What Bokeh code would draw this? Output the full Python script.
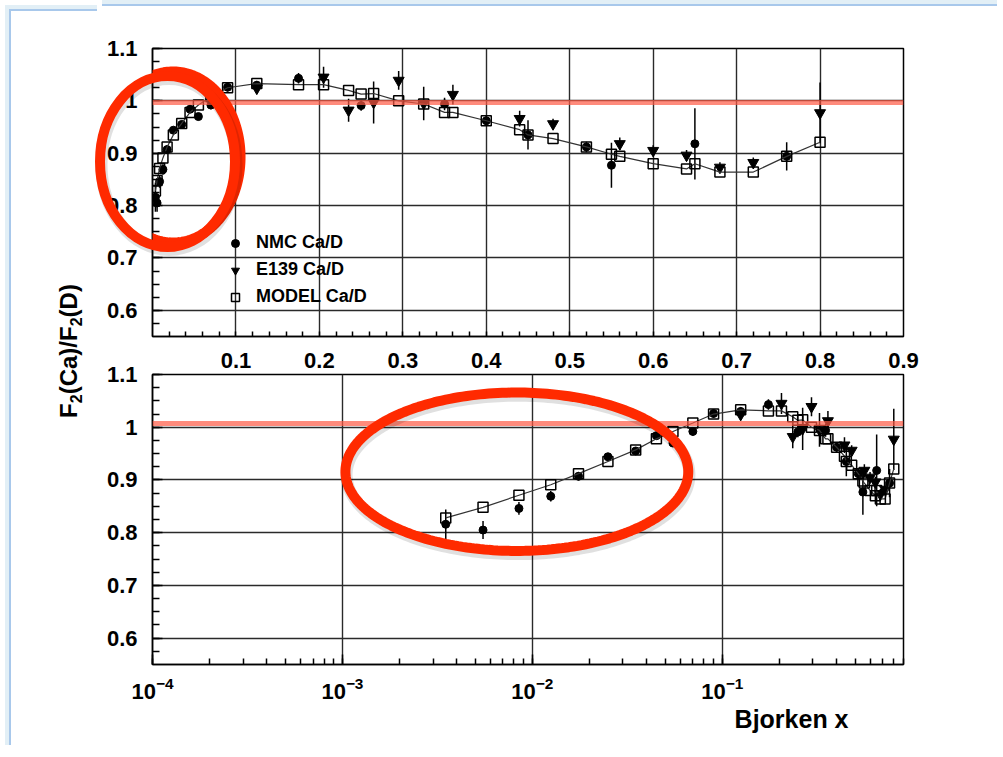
import numpy as np
from bokeh.plotting import figure
from bokeh.models import (FixedTicker, LogTicker, Span, PolyAnnotation, Legend,
                          LegendItem, Div, Title, LinearAxis, Range1d, LinearScale)
from bokeh.layouts import row, column
from bokeh.embed import file_html
from bokeh.resources import INLINE

FONT = "Liberation Sans"

# ---------------- data ----------------
x_nmc = [0.0035, 0.0055, 0.0085, 0.0125, 0.0175, 0.025, 0.035, 0.045, 0.055, 0.07,
         0.09, 0.125, 0.175, 0.25, 0.35, 0.40, 0.45, 0.52, 0.55, 0.65, 0.76]
y_nmc = [0.816, 0.805, 0.846, 0.869, 0.907, 0.944, 0.955, 0.984, 0.970, 0.992,
         1.026, 1.030, 1.043, 0.991, 0.994, 0.962, 0.935, 0.912, 0.877, 0.918, 0.894]
e_nmc = [0.028, 0.017, 0.012, 0.010, 0.008, 0.007, 0.007, 0.007, 0.007, 0.008,
         0.008, 0.008, 0.010, 0.010, 0.012, 0.010, 0.028, 0.010, 0.043, 0.068, 0.027]

x_e139 = [0.125, 0.205, 0.235, 0.265, 0.295, 0.325, 0.36, 0.44, 0.48, 0.56,
          0.60, 0.64, 0.68, 0.72, 0.80]
y_e139 = [1.024, 1.045, 0.982, 0.997, 1.039, 0.995, 1.012, 0.966, 0.956, 0.918,
          0.905, 0.896, 0.873, 0.882, 0.977]
e_e139 = [0.008, 0.020, 0.022, 0.040, 0.018, 0.032, 0.019, 0.015, 0.010, 0.012,
          0.010, 0.010, 0.010, 0.010, 0.058]

x_model = [0.0035, 0.0055, 0.0085, 0.0125, 0.0175, 0.025, 0.035, 0.045, 0.055, 0.07,
           0.09, 0.125, 0.175, 0.205, 0.235, 0.25, 0.265, 0.295, 0.325, 0.35,
           0.36, 0.40, 0.44, 0.45, 0.48, 0.52, 0.55, 0.56, 0.60, 0.64,
           0.65, 0.68, 0.72, 0.76, 0.80]
y_model = [0.828, 0.848, 0.871, 0.891, 0.912, 0.935, 0.957, 0.978, 0.992, 1.008,
           1.025, 1.033, 1.031, 1.031, 1.020, 1.013, 1.014, 1.000, 0.994, 0.978,
           0.978, 0.962, 0.945, 0.935, 0.928, 0.912, 0.898, 0.894, 0.880, 0.870,
           0.880, 0.864, 0.864, 0.894, 0.921]

legend_labels = ["NMC Ca/D", "E139 Ca/D", "MODEL Ca/D"]
x_ticks_lin = [0.1, 0.2, 0.3, 0.4, 0.5, 0.6, 0.7, 0.8, 0.9]
y_ticks = [0.6, 0.7, 0.8, 0.9, 1.0, 1.1]
y_tick_labels = {0.6: "0.6", 0.7: "0.7", 0.8: "0.8", 0.9: "0.9", 1.0: "1", 1.1: "1.1"}
x_title = "Bjorken x"
ref_line_top = 0.997
ref_line_bottom = 1.0072

# --------------------------------------------------------------------------
GRID = "#2a2a2a"
RED = "#ff2a00"
PAGE_TOP = ("linear-gradient(to bottom, #e2eff6 0px, #e2eff6 4px, #a8c8eb 4px, "
            "#a8c8eb 6px, #ffffff 6px)")
PAGE_LEFT = ("linear-gradient(to right, #e2eff6 0px, #e2eff6 4px, #a8c8eb 4px, "
             "#a8c8eb 6px, #ffffff 6px)")


def style_axis(ax, tick_in, minor_in, standoff):
    ax.major_label_text_font = FONT
    ax.major_label_text_font_style = "bold"
    ax.major_label_text_font_size = "22px"
    ax.major_label_text_color = "black"
    ax.major_label_standoff = standoff
    ax.axis_line_color = "black"
    ax.axis_line_width = 1.5
    ax.major_tick_in = tick_in
    ax.major_tick_out = 0
    ax.minor_tick_in = minor_in
    ax.minor_tick_out = 0
    ax.major_tick_line_color = "black"
    ax.minor_tick_line_color = "black"
    ax.major_tick_line_width = 1.5
    ax.minor_tick_line_width = 1.5


def base_style(p):
    p.outline_line_color = "black"
    p.outline_line_width = 1.5
    p.outline_line_alpha = 1.0
    p.background_fill_color = "white"
    p.border_fill_color = "white"
    for g in (p.xgrid, p.ygrid):
        g.grid_line_color = GRID
        g.grid_line_width = 1.4
        g.grid_line_alpha = 1.0


def draw_data(p):
    p.segment(x0=x_nmc, y0=[y - e for y, e in zip(y_nmc, e_nmc)],
              x1=x_nmc, y1=[y + e for y, e in zip(y_nmc, e_nmc)],
              line_color="black", line_width=1.5)
    p.segment(x0=x_e139, y0=[y - e for y, e in zip(y_e139, e_e139)],
              x1=x_e139, y1=[y + e for y, e in zip(y_e139, e_e139)],
              line_color="black", line_width=1.5)
    r1 = p.scatter(x_nmc, y_nmc, marker="circle", size=8, fill_color="black",
                   line_color="black")
    r2 = p.scatter(x_e139, y_e139, marker="inverted_triangle", size=11,
                   fill_color="black", line_color="black")
    p.line(x_model, y_model, line_color="#333333", line_width=1.2)
    r3 = p.scatter(x_model, y_model, marker="square", size=10, fill_alpha=0,
                   line_color="black", line_width=1.5)
    return r1, r2, r3


def ellipse(p, cx, cy, a, b, logx=False, dx=0.0, dy=0.0, color=RED,
            alpha=1.0, width=10):
    t = np.linspace(0, 2 * np.pi, 240)
    xs = cx + dx + a * np.cos(t)
    ys = cy + dy + b * np.sin(t)
    if logx:
        xs = 10 ** xs
    p.add_layout(PolyAnnotation(xs=list(xs), ys=list(ys), fill_alpha=0,
                                line_color=color, line_alpha=alpha,
                                line_width=width, level="overlay"))


minor_lin = [round(v, 3) for v in np.arange(0.02, 0.9, 0.02)]
minor_y = [round(v, 3) for v in np.arange(0.575, 1.1, 0.025)]

# ---------------- top panel (linear x) ----------------
top = figure(frame_width=751, frame_height=288, x_range=(0, 0.9),
             y_range=(0.55, 1.1), output_backend="svg", toolbar_location=None,
             min_border_left=50, min_border_right=94, min_border_top=48,
             min_border_bottom=2, styles={"background": PAGE_TOP})
base_style(top)
top.border_fill_alpha = 0
# ticks only on this axis (its labels are drawn just below, see the bottom figure)
top.xaxis.ticker = FixedTicker(ticks=[], minor_ticks=minor_lin)
top.xgrid.ticker = FixedTicker(ticks=x_ticks_lin)
yt = FixedTicker(ticks=y_ticks, minor_ticks=minor_y)
top.yaxis.ticker = yt
top.ygrid.ticker = yt
top.yaxis.major_label_overrides = y_tick_labels
style_axis(top.xaxis[0], 10, 5, 0)
style_axis(top.yaxis[0], 10, 7, 15)

top.add_layout(Span(location=ref_line_top, dimension="width", line_color="#ff5a45",
                    line_alpha=0.7, line_width=5))
n1, n2, n3 = draw_data(top)

legend = Legend(items=[LegendItem(label=legend_labels[0], renderers=[n1]),
                       LegendItem(label=legend_labels[1], renderers=[n2]),
                       LegendItem(label=legend_labels[2], renderers=[n3])],
                location=(73, 29), padding=0, margin=0, spacing=6,
                glyph_width=20, glyph_height=20, label_height=20,
                label_standoff=11, background_fill_alpha=0, border_line_alpha=0,
                label_text_font=FONT, label_text_font_style="bold",
                label_text_font_size="18px", label_text_color="black")
top.add_layout(legend)

ellipse(top, 0.0246, 0.8928, 0.0809, 0.1633)

# ---------------- bottom panel (log x) ----------------
bot = figure(frame_width=751, frame_height=290, x_axis_type="log",
             x_range=(1e-4, 0.9), y_range=(0.55, 1.1), output_backend="svg",
             toolbar_location=None, min_border_left=50, min_border_right=94,
             min_border_top=36, min_border_bottom=76)
base_style(bot)
lt = LogTicker(num_minor_ticks=10)
bot.xaxis.ticker = lt
bot.xgrid.ticker = lt
yt2 = FixedTicker(ticks=y_ticks, minor_ticks=minor_y)
bot.yaxis.ticker = yt2
bot.ygrid.ticker = yt2
bot.yaxis.major_label_overrides = y_tick_labels
style_axis(bot.xaxis[0], 10, 6, 12)
style_axis(bot.yaxis[0], 10, 7, 15)

# tick labels of the upper panel's linear x axis (same frame geometry)
bot.extra_x_ranges = {"toplin": Range1d(0, 0.9)}
bot.extra_x_scales = {"toplin": LinearScale()}
top_labels = LinearAxis(x_range_name="toplin", ticker=FixedTicker(ticks=x_ticks_lin))
style_axis(top_labels, 0, 0, 7)
top_labels.axis_line_color = None
top_labels.major_tick_line_color = None
top_labels.minor_tick_line_color = None
bot.add_layout(top_labels, "above")

bot.add_layout(Span(location=ref_line_bottom, dimension="width",
                    line_color="#ff5a45", line_alpha=0.7, line_width=5))
draw_data(bot)

bot.add_layout(Title(text=x_title, align="right", offset=55, standoff=2,
                     text_font=FONT, text_font_style="bold",
                     text_font_size="25px", text_color="black"), "below")

ellipse(bot, -2.0816, 0.9156, 0.9026, 0.1502, logx=True, dx=0.006, dy=-0.006,
        color="black", alpha=0.12, width=12)
ellipse(bot, -2.0816, 0.9156, 0.9026, 0.1502, logx=True)

# ---------------- shared y label, page strips, full upper highlight ring ----
ylab_html = (
    '<div style="position:absolute; left:0px; top:0px; width:92px; height:4px; '
    'background:#e2eff6;"></div>'
    '<div style="position:absolute; left:4px; top:4px; width:88px; height:2px; '
    'background:#a8c8eb;"></div>'
    '<div style="position:absolute; left:66px; top:346px; '
    'transform:translate(-50%,-50%) rotate(-90deg); white-space:nowrap; '
    "font-family:'Liberation Sans',Arial,sans-serif; font-weight:bold; "
    'font-size:24px; color:#000; line-height:1;">'
    'F<sub style="font-size:16px">2</sub>(Ca)/F<sub style="font-size:16px">2</sub>(D)'
    '</div>'
    '<svg style="position:absolute; left:0px; top:0px; overflow:visible; '
    'z-index:50; pointer-events:none" width="320" height="320">'
    '<ellipse cx="164" cy="159.5" rx="67.5" ry="85.5" fill="none" stroke="#000" '
    'stroke-opacity="0.12" stroke-width="12"/>'
    '<ellipse cx="162.5" cy="156.5" rx="67.5" ry="85.5" fill="none" '
    'stroke="#ff2a00" stroke-width="10"/>'
    '</svg>'
)
ylab = Div(text=ylab_html, width=92, height=740,
           styles={"background": PAGE_LEFT,
                   "position": "relative", "overflow": "visible", "z-index": "10"})

layout = row(ylab, column(top, bot, spacing=0), spacing=0)

open("out.html", "w").write(file_html(layout, INLINE))
